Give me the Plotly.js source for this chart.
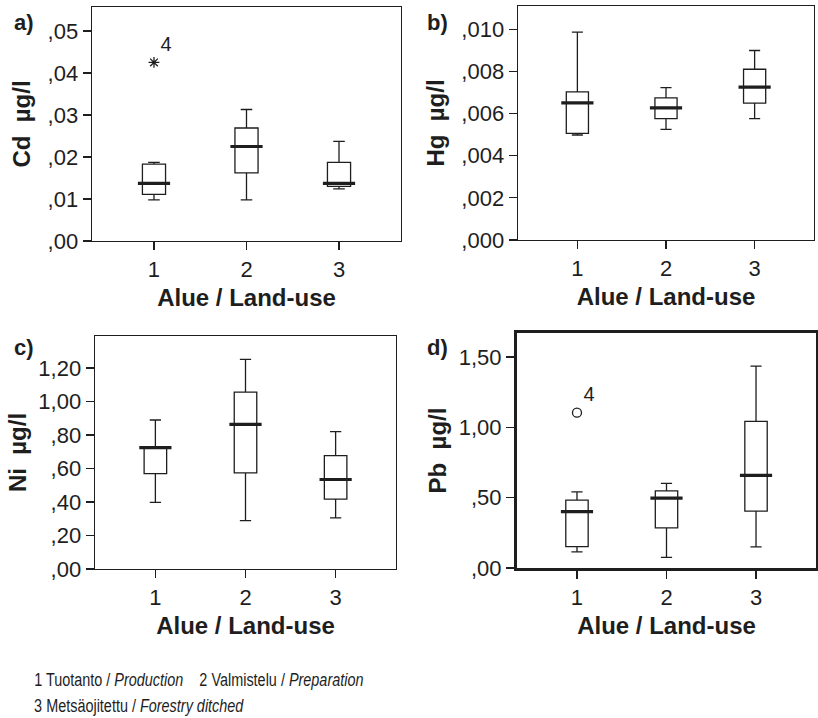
<!DOCTYPE html>
<html>
<head>
<meta charset="utf-8">
<script src="https://cdn.plot.ly/plotly-3.0.1.min.js"></script>
<style>html,body{margin:0;padding:0;background:#fff;}#chart{width:818px;height:718px;}</style>
</head>
<body>
<div id="chart"></div>
<script>
// ---- data ----
const categories = [1, 2, 3];
const categoryLabels = ["1", "2", "3"];

// Cd µg/l
const cdLow  = [0.0098, 0.0098, 0.0124];
const cdQ1   = [0.0111, 0.0162, 0.0130];
const cdMed  = [0.0137, 0.0225, 0.0137];
const cdQ3   = [0.0183, 0.0269, 0.0187];
const cdHigh = [0.0187, 0.0313, 0.0237];
const cdOutX = [1], cdOutY = [0.0425], cdOutLabel = ["4"];

// Hg µg/l
const hgLow  = [0.00498, 0.00525, 0.00576];
const hgQ1   = [0.00506, 0.00576, 0.00649];
const hgMed  = [0.00650, 0.00627, 0.00725];
const hgQ3   = [0.00703, 0.00674, 0.00810];
const hgHigh = [0.00986, 0.00723, 0.00899];

// Ni µg/l
const niLow  = [0.397, 0.288, 0.305];
const niQ1   = [0.569, 0.573, 0.417];
const niMed  = [0.724, 0.863, 0.534];
const niQ3   = [0.730, 1.055, 0.676];
const niHigh = [0.889, 1.250, 0.819];

// Pb µg/l
const pbLow  = [0.114, 0.076, 0.150];
const pbQ1   = [0.152, 0.285, 0.404];
const pbMed  = [0.401, 0.496, 0.658];
const pbQ3   = [0.482, 0.548, 1.042];
const pbHigh = [0.541, 0.601, 1.434];
const pbOutX = [1], pbOutY = [1.104], pbOutLabel = ["4"];

// tick labels
const cdTickVals = [0, 0.01, 0.02, 0.03, 0.04, 0.05];
const cdTickText = [",00", ",01", ",02", ",03", ",04", ",05"];
const hgTickVals = [0, 0.002, 0.004, 0.006, 0.008, 0.010];
const hgTickText = [",000", ",002", ",004", ",006", ",008", ",010"];
const niTickVals = [0, 0.2, 0.4, 0.6, 0.8, 1.0, 1.2];
const niTickText = [",00", ",20", ",40", ",60", ",80", "1,00", "1,20"];
const pbTickVals = [0, 0.5, 1.0, 1.5];
const pbTickText = [",00", ",50", "1,00", "1,50"];

// ---- styling ----
const INK = "#1e1e1e";
const FONT = "Liberation Sans, Arial, sans-serif";
const W = 818, H = 718;

function boxTrace(n, lo, q1, med, q3, hi) {
  return {
    type: "box", xaxis: "x" + n, yaxis: "y" + n,
    x: categories, lowerfence: lo, q1: q1, median: med, q3: q3, upperfence: hi,
    width: 0.25, whiskerwidth: 0.5, boxpoints: false,
    fillcolor: "#ffffff", line: {color: INK, width: 1.3},
    hoverinfo: "skip", showlegend: false
  };
}
function medianTrace(n, med) {
  return {
    type: "scatter", mode: "markers", xaxis: "x" + n, yaxis: "y" + n,
    x: categories, y: med,
    marker: {symbol: "line-ew", size: 23, line: {color: INK, width: 3.2}},
    hoverinfo: "skip", showlegend: false
  };
}
function outlierTrace(n, xs, ys, labels, symbol) {
  return {
    type: "scatter", mode: "markers+text", xaxis: "x" + n, yaxis: "y" + n,
    x: xs, y: ys, text: labels, textposition: "top right",
    textfont: {family: FONT, size: 20, color: INK},
    marker: {symbol: symbol, size: 9, color: INK, line: {color: INK, width: 1.3}},
    hoverinfo: "skip", showlegend: false
  };
}

const traces = [
  boxTrace("", cdLow, cdQ1, cdMed, cdQ3, cdHigh), medianTrace("", cdMed),
  outlierTrace("", cdOutX, cdOutY, cdOutLabel, "asterisk-open"),
  boxTrace("2", hgLow, hgQ1, hgMed, hgQ3, hgHigh), medianTrace("2", hgMed),
  boxTrace("3", niLow, niQ1, niMed, niQ3, niHigh), medianTrace("3", niMed),
  boxTrace("4", pbLow, pbQ1, pbMed, pbQ3, pbHigh), medianTrace("4", pbMed),
  outlierTrace("4", pbOutX, pbOutY, pbOutLabel, "circle-open")
];

function px(a, b) { return [a / W, b / W]; }
function py(top, bottom) { return [1 - bottom / H, 1 - top / H]; }

function xAxis(dom, anchor, lw) {
  return {
    domain: dom, anchor: anchor, range: [0.33, 3.67], type: "linear",
    tickvals: categories, ticktext: categoryLabels,
    ticks: "outside", ticklen: 8, tickwidth: 1.3, tickcolor: INK,
    showline: true, mirror: true, linecolor: INK, linewidth: lw,
    showgrid: false, zeroline: false, fixedrange: true,
    tickfont: {family: FONT, size: 22, color: INK},
    title: {text: "<b>Alue / Land-use</b>", font: {family: FONT, size: 24, color: INK}, standoff: 8},
    automargin: false
  };
}
function yAxis(dom, anchor, range, tv, tt, title, lw, so) {
  return {
    domain: dom, anchor: anchor, range: range,
    tickvals: tv, ticktext: tt,
    ticks: "outside", ticklen: 8, tickwidth: 1.3, tickcolor: INK,
    showline: true, mirror: true, linecolor: INK, linewidth: lw,
    showgrid: false, zeroline: false, fixedrange: true,
    tickfont: {family: FONT, size: 22, color: INK},
    title: {text: "<b>" + title + "</b>", font: {family: FONT, size: 24, color: INK}, standoff: so},
    automargin: false
  };
}

const FOOT_FONT = {family: FONT, size: 19, color: INK};
const layout = {
  width: W, height: H,
  margin: {l: 0, r: 0, t: 0, b: 0},
  paper_bgcolor: "#ffffff", plot_bgcolor: "#ffffff",
  showlegend: false,
  xaxis:  xAxis(px(92, 401), "y", 1.4),
  yaxis:  yAxis(py(7, 241), "x", [0, 0.0557], cdTickVals, cdTickText, "Cd  µg/l", 1.4, 10),
  xaxis2: xAxis(px(518, 814), "y2", 1.4),
  yaxis2: yAxis(py(6, 240), "x2", [0, 0.0111], hgTickVals, hgTickText, "Hg  µg/l", 1.4, 10),
  xaxis3: xAxis(px(95, 396), "y3", 1.4),
  yaxis3: yAxis(py(336, 569), "x3", [0, 1.39], niTickVals, niTickText, "Ni  µg/l", 1.4, 5),
  xaxis4: xAxis(px(517, 816), "y4", 3),
  yaxis4: yAxis(py(333, 568), "x4", [0, 1.67], pbTickVals, pbTickText, "Pb  µg/l", 3, 6),
  annotations: [
    {text: "<b>a)</b>", x: 12 / W, y: 1 - 23 / H},
    {text: "<b>b)</b>", x: 425 / W, y: 1 - 23 / H},
    {text: "<b>c)</b>", x: 12 / W, y: 1 - 347 / H},
    {text: "<b>d)</b>", x: 425 / W, y: 1 - 347 / H}
  ].map(a => Object.assign({xref: "paper", yref: "paper", xanchor: "left", yanchor: "middle",
      showarrow: false, font: {family: FONT, size: 22, color: INK}}, a)).concat([
    {text: "1 Tuotanto / <i>Production</i>&nbsp;&nbsp;&nbsp;&nbsp;2 Valmistelu / <i>Preparation</i>",
     x: 32 / W, y: 1 - 679 / H},
    {text: "3 Metsäojitettu / <i>Forestry ditched</i>", x: 32 / W, y: 1 - 705 / H}
  ].map(a => Object.assign({xref: "paper", yref: "paper", xanchor: "left", yanchor: "middle",
      showarrow: false, font: FOOT_FONT}, a)))
};

Plotly.newPlot("chart", traces, layout, {staticPlot: true, displayModeBar: false}).then(function (gd) {
  // the footer in the original is set in a condensed face: compress it horizontally
  const anns = gd.querySelectorAll(".annotation");
  [4, 5].forEach(function (i) {
    const g = anns[i];
    if (!g) return;
    const t = g.querySelector("text.annotation-text");
    if (!t) return;
    const x0 = t.getBBox().x;
    t.setAttribute("transform", "translate(" + x0 + ",0) scale(0.76,1) translate(" + (-x0) + ",0)");
  });
});
</script>
</body>
</html>
